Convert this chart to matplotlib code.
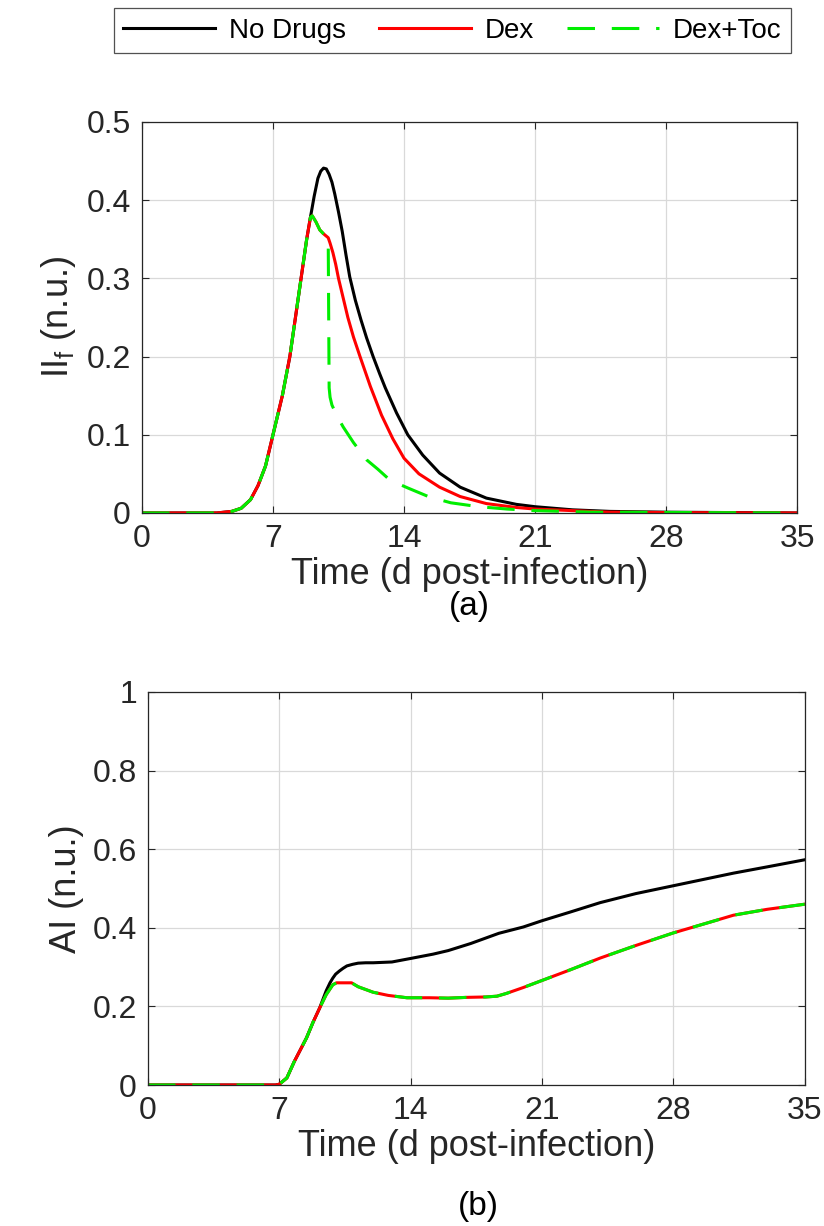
import matplotlib

matplotlib.use("Agg")
import matplotlib.pyplot as plt  # noqa: E402

plt.rcParams["font.family"] = ["Liberation Sans", "DejaVu Sans"]
plt.rcParams["mathtext.fontset"] = "custom"
plt.rcParams["mathtext.rm"] = "Liberation Sans"

# --- panel (a): II_f ---
rise_t = [0, 4.0, 4.8, 5.3, 5.8, 6.2, 6.6, 7.0, 7.5, 7.9, 8.2, 8.5, 8.8, 9.0]
rise_v = [0, 0, 0.002, 0.006, 0.017, 0.035, 0.06, 0.10, 0.15, 0.20, 0.25, 0.30, 0.35, 0.378]

iif_none_t = [9.2, 9.4, 9.55, 9.7, 9.85, 10.0, 10.15, 10.3, 10.5, 10.7, 10.9, 11.1, 11.4,
              11.7, 12.0, 12.35, 12.7, 13.0, 13.6, 14.2, 15.0, 15.9, 17.0, 18.4, 20.0,
              21.0, 23.0, 25.0, 28.0, 35.0]
iif_none_v = [0.405, 0.428, 0.437, 0.441, 0.44, 0.433, 0.423, 0.408, 0.385, 0.36, 0.33,
              0.302, 0.272, 0.247, 0.224, 0.20, 0.178, 0.16, 0.128, 0.10, 0.074, 0.051,
              0.033, 0.019, 0.011, 0.008, 0.004, 0.002, 0.001, 0.0]

notch_t = [9.1, 9.3, 9.5, 9.7, 9.95]
notch_v = [0.38, 0.372, 0.362, 0.357, 0.352]

iif_dex_t = [10.05, 10.2, 10.35, 10.5, 10.75, 11.0, 11.3, 11.65, 12.2, 12.8, 13.4, 14.0,
             14.8, 15.9, 17.0, 18.4, 20.0, 21.0, 23.0, 25.0, 28.0, 35.0]
iif_dex_v = [0.345, 0.333, 0.318, 0.30, 0.275, 0.25, 0.225, 0.20, 0.162, 0.125, 0.095,
             0.07, 0.05, 0.033, 0.021, 0.012, 0.007, 0.005, 0.003, 0.001, 0.0005, 0.0]

iif_toc_t = [10.0, 10.05, 10.15, 10.4, 10.75, 11.3, 12.0, 12.6, 13.25, 14.2, 15.3, 16.5,
             18.0, 19.5, 21.0, 24.0, 35.0]
iif_toc_v = [0.16, 0.148, 0.138, 0.125, 0.11, 0.09, 0.068, 0.056, 0.042, 0.032, 0.021,
             0.013, 0.008, 0.005, 0.003, 0.001, 0.0]

# --- panel (b): AI ---
ai_rise_t = [0, 6.8, 7.0, 7.4, 7.8, 8.45, 8.8, 9.15]
ai_rise_v = [0, 0, 0.002, 0.018, 0.06, 0.12, 0.16, 0.196]

ai_none_t = [9.5, 9.7, 9.85, 10.0, 10.2, 10.4, 10.6, 10.9, 11.2, 11.6, 12.0, 13.0, 14.0,
             15.2, 16.0, 17.2, 18.7, 20.0, 21.0, 22.5, 24.1, 26.0, 28.0, 30.0, 31.2,
             33.0, 35.0]
ai_none_v = [0.24, 0.26, 0.272, 0.282, 0.29, 0.297, 0.303, 0.307, 0.31, 0.311, 0.311,
             0.313, 0.322, 0.333, 0.342, 0.36, 0.386, 0.402, 0.418, 0.44, 0.464, 0.487,
             0.507, 0.527, 0.539, 0.555, 0.573]

ai_dex_t = [9.5, 9.85, 10.05, 10.85, 11.2, 12.0, 12.8, 13.8, 15.0, 16.0, 17.0, 18.0, 18.6,
            19.1, 20.0, 21.0, 22.5, 24.1, 26.0, 28.0, 30.0, 31.2, 33.0, 35.0]
ai_dex_v = [0.23, 0.255, 0.26, 0.26, 0.25, 0.236, 0.228, 0.222, 0.222, 0.221, 0.223, 0.224,
            0.226, 0.233, 0.248, 0.266, 0.293, 0.323, 0.355, 0.387, 0.415, 0.432, 0.447, 0.46]
ai_toc_t = list(ai_dex_t)
ai_toc_v = list(ai_dex_v)

xticks = [0, 7, 14, 21, 28, 35]
labels = ["No Drugs", "Dex", "Dex+Toc"]

LW = 2.2
GRAY = "#262626"


def style(ax):
    ax.set_xlim(0, 35)
    ax.set_xticks(xticks)
    ax.grid(True, color="#d9d9d9", linewidth=0.9)
    ax.set_axisbelow(True)
    ax.tick_params(direction="in", top=True, right=True, labelsize=23,
                   colors=GRAY, length=5, width=0.8, pad=8)
    for s in ax.spines.values():
        s.set_color(GRAY)
        s.set_linewidth(0.9)
    ax.set_xlabel("Time (d post-infection)", fontsize=26, color=GRAY, labelpad=2)


fig = plt.figure(figsize=(8.24, 12.26), dpi=100)

ax1 = fig.add_axes([0.1723, 0.5816, 0.795, 0.3189])
h1, = ax1.plot(rise_t + iif_none_t, rise_v + iif_none_v, color="black", lw=LW)
h2, = ax1.plot(rise_t + notch_t + iif_dex_t, rise_v + notch_v + iif_dex_v,
               color="#ff0000", lw=LW)
h3, = ax1.plot(rise_t + notch_t + iif_toc_t, rise_v + notch_v + iif_toc_v,
               color="#00ee00", lw=LW, dashes=(9, 5.5))
ax1.set_ylim(0, 0.5)
ax1.set_yticks([0, 0.1, 0.2, 0.3, 0.4, 0.5])
ax1.set_yticklabels(["0", "0.1", "0.2", "0.3", "0.4", "0.5"])
style(ax1)
ax1.set_ylabel(r"II$_\mathregular{f}$ (n.u.)", fontsize=26, color=GRAY, labelpad=6)

ax2 = fig.add_axes([0.1796, 0.1150, 0.797, 0.3206])
ax2.plot(ai_rise_t + ai_none_t, ai_rise_v + ai_none_v, color="black", lw=LW)
ax2.plot(ai_rise_t + ai_dex_t, ai_rise_v + ai_dex_v, color="#ff0000", lw=LW)
ax2.plot(ai_rise_t + ai_toc_t, ai_rise_v + ai_toc_v, color="#00ee00", lw=LW, dashes=(9, 5.5))
ax2.set_ylim(0, 1)
ax2.set_yticks([0, 0.2, 0.4, 0.6, 0.8, 1])
ax2.set_yticklabels(["0", "0.2", "0.4", "0.6", "0.8", "1"])
style(ax2)
ax2.set_ylabel("AI (n.u.)", fontsize=26, color=GRAY, labelpad=6)

fig.text(0.57, 0.505, "(a)", ha="center", va="center", fontsize=24)
fig.text(0.58, 0.016, "(b)", ha="center", va="center", fontsize=24)

leg = fig.legend([h1, h2, h3], labels, loc="center", bbox_to_anchor=(0.549, 0.975),
                 ncol=3, fontsize=20, handlelength=3.3, columnspacing=1.2,
                 handletextpad=0.5, frameon=True, fancybox=False, borderpad=0.35)
leg.get_frame().set_edgecolor(GRAY)
leg.get_frame().set_linewidth(0.9)

fig.savefig("out.png", dpi=100)
